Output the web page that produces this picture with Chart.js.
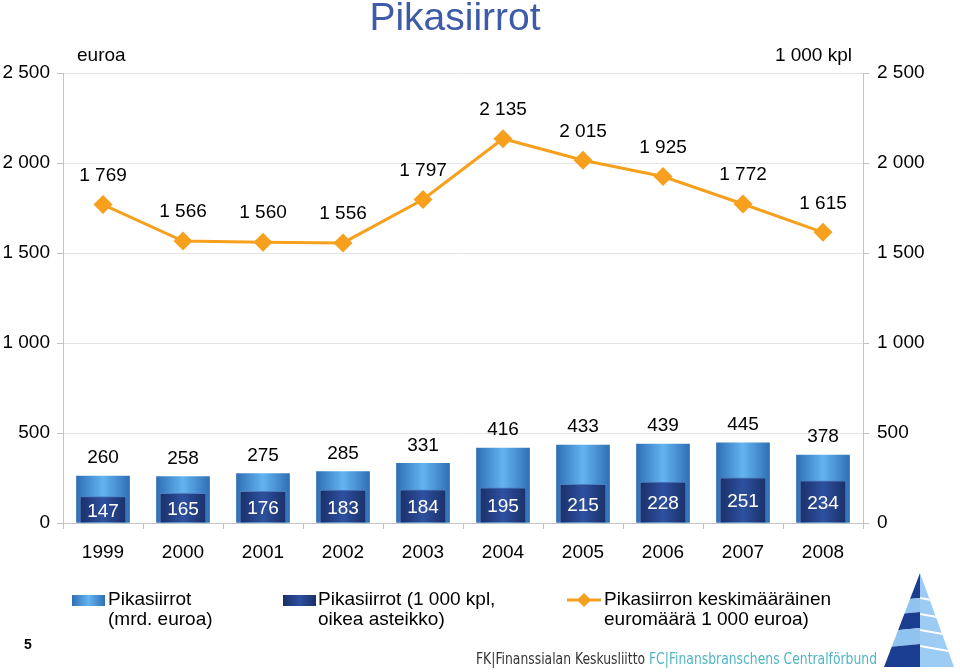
<!DOCTYPE html>
<html>
<head>
<meta charset="utf-8">
<script src="https://cdn.jsdelivr.net/npm/chart.js@4"></script>
<style>
  html, body { margin: 0; padding: 0; background: #fff; }
  #wrap { width: 960px; height: 672px; position: relative; }
</style>
</head>
<body>
<div id="wrap"><canvas id="chartPikasiirrot"></canvas></div>
<script>
// data
let vuodet = ['1999', '2000', '2001', '2002', '2003', '2004', '2005', '2006', '2007', '2008'];
let mrdEuroa = [260, 258, 275, 285, 331, 416, 433, 439, 445, 378];
let kplTuhatta = [147, 165, 176, 183, 184, 195, 215, 228, 251, 234];
let keskiEuro = [1769, 1566, 1560, 1556, 1797, 2135, 2015, 1925, 1772, 1615];
let tickArvot = [0, 500, 1000, 1500, 2000, 2500];

const FONT = "'Liberation Sans', Arial, sans-serif";
const ORANGE = '#F6A01E';

let fmt = (v) => String(v).replace(/\B(?=(\d{3})+(?!\d))/g, ' ');

let lightStops = ['#2f6fb5', '#64b4f1', '#2f6fb5'];
let darkStops = ['#1a2f68', '#2e519f', '#1a2f68'];

let barGrad = (c, stops, w) => {
    let chart = c.chart;
    if (c.type != 'data' || !chart.chartArea) return stops[1];
    let x = chart.scales.x.getPixelForValue(c.dataIndex);
    let g = chart.ctx.createLinearGradient(x - w / 2, 0, x + w / 2, 0);
    g.addColorStop(0, stops[0]);
    g.addColorStop(0.5, stops[1]);
    g.addColorStop(1, stops[2]);
    return g;
};

let fixWidth = (w) => (scale) => { scale.width = w; };

// labels, title, legend and footer
let extras = {
    id: 'extras',
    afterDatasetsDraw(chart) {
        let ctx = chart.ctx;
        ctx.save();
        ctx.textAlign = 'center';
        ctx.textBaseline = 'middle';
        ctx.font = '19px ' + FONT;

        // line labels
        let mLine = chart.getDatasetMeta(0);
        ctx.fillStyle = '#000';
        mLine.data.forEach((p, i) => {
            ctx.fillText(fmt(keskiEuro[i]), p.x, p.y - 29);
        });

        // light bar labels
        let mLight = chart.getDatasetMeta(2);
        mLight.data.forEach((b, i) => {
            ctx.fillText(fmt(mrdEuroa[i]), b.x, b.y - 18);
        });

        // dark bar labels
        let mDark = chart.getDatasetMeta(1);
        ctx.fillStyle = '#fff';
        mDark.data.forEach((b, i) => {
            ctx.fillText(fmt(kplTuhatta[i]), b.x, (b.y + b.base) / 2 + 2);
        });
        ctx.restore();
    },
    afterDraw(chart) {
        let ctx = chart.ctx;
        ctx.save();
        ctx.textBaseline = 'middle';

        // title
        ctx.fillStyle = '#3E5BA9';
        ctx.font = '39px ' + FONT;
        ctx.textAlign = 'center';
        ctx.fillText('Pikasiirrot', 455, 19);

        ctx.fillStyle = '#000';
        ctx.font = '19px ' + FONT;
        ctx.textAlign = 'left';
        ctx.fillText('euroa', 77, 56);
        ctx.textAlign = 'right';
        ctx.fillText('1 000 kpl', 852, 56);

        // legend
        ctx.textAlign = 'left';
        let sw = (x, stops) => {
            let g = ctx.createLinearGradient(x, 0, x + 33, 0);
            g.addColorStop(0, stops[0]);
            g.addColorStop(0.5, stops[1]);
            g.addColorStop(1, stops[2]);
            ctx.fillStyle = g;
            ctx.fillRect(x, 595, 33, 11);
        };
        sw(72, lightStops);
        sw(283, darkStops);
        ctx.strokeStyle = ORANGE;
        ctx.lineWidth = 3;
        ctx.beginPath();
        ctx.moveTo(567, 600);
        ctx.lineTo(601, 600);
        ctx.stroke();
        ctx.fillStyle = ORANGE;
        ctx.beginPath();
        ctx.moveTo(584, 593);
        ctx.lineTo(591, 600);
        ctx.lineTo(584, 607);
        ctx.lineTo(577, 600);
        ctx.closePath();
        ctx.fill();

        ctx.fillStyle = '#000';
        ctx.font = '19px ' + FONT;
        ctx.fillText('Pikasiirrot', 108, 600);
        ctx.fillText('(mrd. euroa)', 108, 620);
        ctx.fillText('Pikasiirrot (1 000 kpl,', 318, 600);
        ctx.fillText('oikea asteikko)', 318, 620);
        ctx.fillText('Pikasiirron keskimääräinen', 604, 600);
        ctx.fillText('euromäärä 1 000 euroa)', 604, 620);

        // page number
        ctx.font = 'bold 14px ' + FONT;
        ctx.fillText('5', 24, 645);

        // footer text
        ctx.font = '15px "DejaVu Sans Condensed", "DejaVu Sans", sans-serif';
        let t1 = 'FK|Finanssialan Keskusliitto ';
        let t2 = 'FC|Finansbranschens Centralförbund';
        let w1 = ctx.measureText(t1).width;
        let w2 = ctx.measureText(t2).width;
        let k = 401 / (w1 + w2);
        ctx.save();
        ctx.translate(476, 660);
        ctx.scale(k, 1);
        ctx.fillStyle = '#333';
        ctx.fillText(t1, 0, 0);
        ctx.fillStyle = '#4fb5c2';
        ctx.fillText(t2, w1, 0);
        ctx.restore();

        // logo
        let ax = 920, ay = 573, by = 667, lx = 884, rx = 954;
        ctx.save();
        ctx.beginPath();
        ctx.moveTo(ax, ay);
        ctx.lineTo(ax, by);
        ctx.lineTo(lx, by);
        ctx.closePath();
        ctx.clip();
        let bandsL = [[573, 598, '#1b3d8f'], [598, 612, '#8fc4f0'], [612, 628, '#1b3d8f'], [628, 644, '#8fc4f0'], [644, 667, '#1b3d8f']];
        bandsL.forEach(b => {
            ctx.fillStyle = b[2];
            ctx.beginPath();
            ctx.moveTo(lx - 5, b[0] + 4);
            ctx.lineTo(ax, b[0]);
            ctx.lineTo(ax, b[1]);
            ctx.lineTo(lx - 5, b[1] + 4);
            ctx.closePath();
            ctx.fill();
        });
        ctx.restore();
        ctx.save();
        ctx.beginPath();
        ctx.moveTo(ax, ay);
        ctx.lineTo(rx, by);
        ctx.lineTo(ax, by);
        ctx.closePath();
        ctx.clip();
        ctx.fillStyle = '#9ccbf3';
        ctx.fillRect(ax, ay, rx - ax, by - ay);
        ctx.strokeStyle = '#fff';
        ctx.lineWidth = 2;
        [598, 614, 630, 646].forEach(y => {
            ctx.beginPath();
            ctx.moveTo(ax, y);
            ctx.lineTo(rx, y + 6);
            ctx.stroke();
        });
        ctx.restore();

        ctx.restore();
    }
};

let contextPika = document.querySelector('#chartPikasiirrot').getContext('2d');

let config = {
    type: 'bar',
    data: {
        labels: vuodet,
        datasets: [{
            type: 'line',
            label: 'Pikasiirron keskimääräinen euromäärä 1 000 euroa)',
            data: keskiEuro,
            yAxisID: 'y',
            order: 0,
            borderColor: ORANGE,
            borderWidth: 3,
            backgroundColor: ORANGE,
            pointStyle: 'rectRot',
            pointRadius: 9.5,
            pointBackgroundColor: ORANGE,
            pointBorderColor: ORANGE,
            pointBorderWidth: 0,
            tension: 0
        }, {
            label: 'Pikasiirrot (1 000 kpl, oikea asteikko)',
            data: kplTuhatta,
            yAxisID: 'y1',
            order: 1,
            grouped: false,
            barThickness: 46,
            backgroundColor: (c) => barGrad(c, darkStops, 46),
            borderColor: '#4f7cbd',
            borderWidth: 1
        }, {
            label: 'Pikasiirrot (mrd. euroa)',
            data: mrdEuroa,
            yAxisID: 'y',
            order: 2,
            grouped: false,
            barThickness: 53,
            backgroundColor: (c) => barGrad(c, lightStops, 53),
            borderWidth: 0
        }]
    },
    options: {
        responsive: false,
        animation: false,
        events: [],
        layout: { padding: { top: 73, left: 0, right: 0, bottom: 0 } },
        plugins: {
            legend: { display: false },
            tooltip: { enabled: false },
            title: { display: false }
        },
        scales: {
            x: {
                afterFit: (s) => { s.height = 149; },
                grid: { drawOnChartArea: false, offset: true, tickLength: 6, color: '#c4c4c4' },
                border: { color: '#c4c4c4' },
                ticks: { color: '#000', font: { size: 19, family: FONT }, padding: 12, maxRotation: 0 }
            },
            y: {
                position: 'left',
                min: 0,
                max: 2500,
                afterFit: fixWidth(63),
                afterBuildTicks: (s) => { s.ticks = tickArvot.map(v => ({ value: v })); },
                grid: { color: '#e4e4e4', tickLength: 6, tickColor: '#c4c4c4' },
                border: { color: '#c4c4c4' },
                ticks: { color: '#000', font: { size: 19, family: FONT }, padding: 7, callback: (v) => fmt(v) }
            },
            y1: {
                position: 'right',
                min: 0,
                max: 2500,
                afterFit: fixWidth(97),
                afterBuildTicks: (s) => { s.ticks = tickArvot.map(v => ({ value: v })); },
                grid: { drawOnChartArea: false, tickLength: 6, color: '#c4c4c4' },
                border: { color: '#c4c4c4' },
                ticks: { color: '#000', font: { size: 19, family: FONT }, padding: 8, callback: (v) => fmt(v) }
            }
        }
    },
    plugins: [extras]
};

let canvas = document.querySelector('#chartPikasiirrot');
canvas.width = 960;
canvas.height = 672;

let chartPika = new Chart(contextPika, config);
</script>
</body>
</html>
